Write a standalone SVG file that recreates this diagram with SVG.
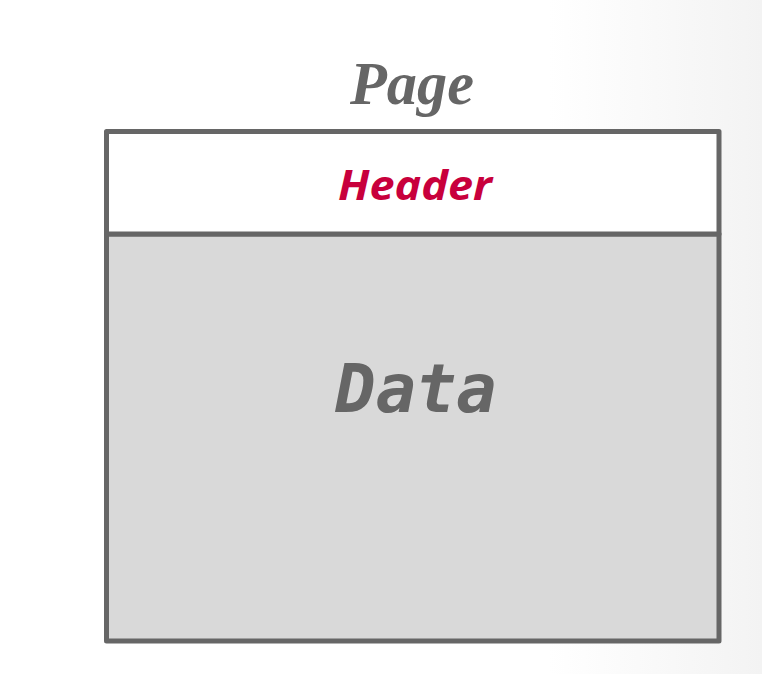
<svg xmlns="http://www.w3.org/2000/svg" width="762" height="674" viewBox="0 0 762 674">
  <defs>
    <linearGradient id="bg" x1="0" y1="0" x2="1" y2="0">
      <stop offset="0" stop-color="#ffffff"/>
      <stop offset="0.72" stop-color="#ffffff"/>
      <stop offset="1" stop-color="#f3f3f3"/>
    </linearGradient>
    <style>
      .frame { stroke: #666666; stroke-width: 5; stroke-linejoin: round; }
      .title { font-family: "Liberation Serif", "DejaVu Serif", serif; font-weight: bold; font-style: italic; fill: #666666; }
      .hdr { font-family: "Open Sans", "Liberation Sans", sans-serif; font-weight: bold; font-style: italic; fill: #c8003c; }
      .data { font-family: "DejaVu Sans Mono", "Liberation Mono", monospace; font-weight: bold; font-style: italic; fill: #666666; }
    </style>
  </defs>

  <rect width="762" height="674" fill="url(#bg)"/>

  <g id="page">
    <text class="title" x="412" y="104" font-size="62" text-anchor="middle" textLength="124" lengthAdjust="spacingAndGlyphs">Page</text>
  </g>

  <g id="data">
    <rect class="frame" x="106.5" y="234" width="612.5" height="407" fill="#d9d9d9"/>
    <text class="data" x="416" y="412" font-size="67" text-anchor="middle">Data</text>
  </g>

  <g id="header">
    <rect class="frame" x="106.5" y="131.5" width="612.5" height="102.5" fill="#ffffff"/>
    <text class="hdr" x="415" y="200" font-size="41" text-anchor="middle" textLength="154" lengthAdjust="spacingAndGlyphs">Header</text>
  </g>

  <g id="connectors"/>
</svg>
